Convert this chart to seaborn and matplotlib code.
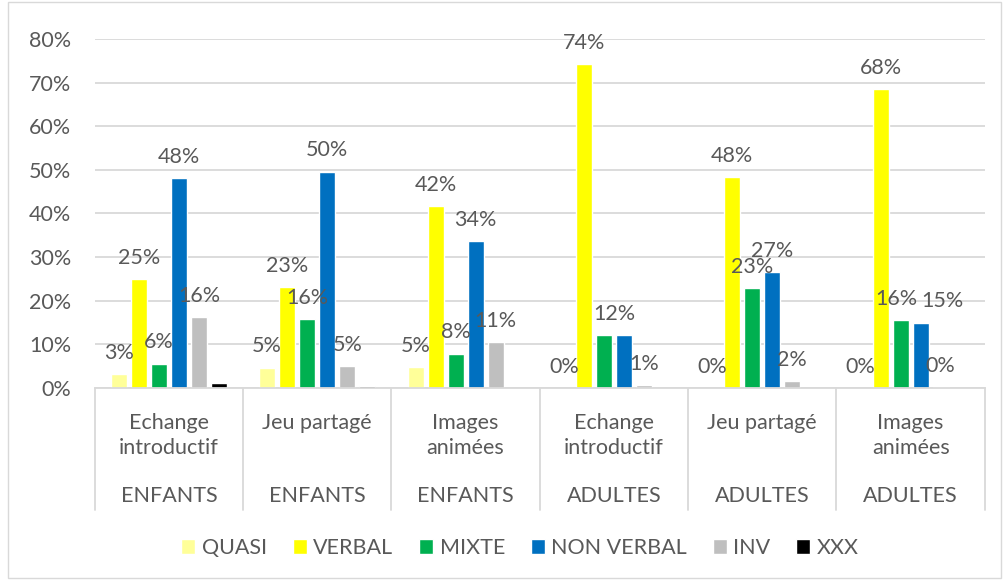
import matplotlib
matplotlib.use("Agg")
import matplotlib.pyplot as plt
import matplotlib.transforms as mtransforms
from matplotlib.patches import Rectangle
import seaborn as sns
import pandas as pd

# chart data
sessions = ["Echange\nintroductif", "Jeu partagé", "Images\nanimées",
            "Echange\nintroductif", "Jeu partagé", "Images\nanimées"]
groups = ["ENFANTS", "ENFANTS", "ENFANTS", "ADULTES", "ADULTES", "ADULTES"]
categories = ["QUASI", "VERBAL", "MIXTE", "NON VERBAL", "INV", "XXX"]

quasi = [3.2, 4.7, 4.9, 0, 0, 0]
verbal = [25.0, 23.2, 41.6, 74.3, 48.3, 68.4]
mixte = [5.6, 15.8, 7.9, 12.1, 23.0, 15.6]
non_verbal = [48.2, 49.6, 33.7, 12.1, 26.6, 15.0]
inv = [16.3, 5.0, 10.6, 0.6, 1.6, 0.2]
xxx = [1.1, 0.5, 0, 0, 0, 0]

colors = ["#FFFF99", "#FFFF00", "#00B050", "#0070C0", "#BFBFBF", "#000000"]
grey_txt = "#595959"
fs = 15.5

series = [quasi, verbal, mixte, non_verbal, inv, xxx]
rows = []
for cat, vals in zip(categories, series):
    for i, v in enumerate(vals):
        rows.append({"grp": i, "cat": cat, "val": v})
df = pd.DataFrame(rows)

sns.set_theme(style="white")
plt.rcParams["font.family"] = ["Lato", "DejaVu Sans"]

fig = plt.figure(figsize=(10.08, 5.8), dpi=100)
ax = fig.add_axes([0.094, 0.331, 0.883, 0.602])

sns.barplot(data=df, x="grp", y="val", hue="cat", hue_order=categories,
            palette=colors, saturation=1, width=0.81, gap=0.2,
            errorbar=None, legend=False, ax=ax)

# data labels (none for XXX; the two 12% bars of group 4 share one label)
labels_by_cat = {}
for k, cont in enumerate(ax.containers):
    if categories[k] == "XXX":
        continue
    labs = [f"{v:.0f}%" for v in series[k]]
    if categories[k] in ("MIXTE", "NON VERBAL"):
        labs[3] = ""
    labels_by_cat[categories[k]] = ax.bar_label(cont, labels=labs, padding=8,
                                                fontsize=fs, color=grey_txt)

# pull apart the crowded 16% / 15% labels of the last group, as in the original
labels_by_cat["MIXTE"][5].xyann = (-3, 8)
labels_by_cat["NON VERBAL"][5].xyann = (16, 8.5)

p1 = ax.containers[2].patches[3]
p2 = ax.containers[3].patches[3]
xmid = (p1.get_x() + p2.get_x() + p2.get_width()) / 2
ax.annotate(f"{mixte[3]:.0f}%", (xmid, max(mixte[3], non_verbal[3])),
            xytext=(0, 8), textcoords="offset points", ha="center",
            va="bottom", fontsize=fs, color=grey_txt)

ax.set_ylim(0, 80)
ax.set_xlim(-0.5, 5.5)
ax.set_yticks(range(0, 81, 10))
ax.set_yticklabels([f"{t}%" for t in range(0, 81, 10)])
ax.yaxis.grid(True, color="#D9D9D9", linewidth=1.3)
ax.set_axisbelow(True)
for s in ["top", "right", "left"]:
    ax.spines[s].set_visible(False)
ax.spines["bottom"].set_color("#D9D9D9")
ax.spines["bottom"].set_linewidth(1.3)
ax.tick_params(axis="y", length=0, pad=17, labelsize=fs, labelcolor=grey_txt)
ax.set_xticks(range(6))
ax.set_xticklabels(sessions)
ax.tick_params(axis="x", length=0, pad=18, labelsize=fs, labelcolor=grey_txt)
for t in ax.get_xticklabels():
    t.set_verticalalignment("top")
    t.set_linespacing(1.3)
ax.set_xlabel("")
ax.set_ylabel("")

trans = mtransforms.blended_transform_factory(ax.transData, ax.transAxes)
for i, g in enumerate(groups):
    ax.text(i, -0.309, g, transform=trans, ha="center", va="center",
            fontsize=fs, color=grey_txt)
for i in range(7):
    ax.plot([i - 0.5, i - 0.5], [0, -0.35], transform=trans, clip_on=False,
            color="#D9D9D9", linewidth=1.3)

handles = [Rectangle((0, 0), 1, 1, facecolor=c) for c in colors]
fig.legend(handles, categories, loc="center", bbox_to_anchor=(0.516, 0.055),
           ncol=6, frameon=False, fontsize=fs, handlelength=0.65,
           handleheight=0.65, handletextpad=0.3, columnspacing=1.2,
           labelcolor=grey_txt)

fig.patches.append(Rectangle((0.008, 0.003), 0.985, 0.994, transform=fig.transFigure,
                             fill=False, edgecolor="#D9D9D9", linewidth=1))

fig.savefig("out.png", dpi=100)
